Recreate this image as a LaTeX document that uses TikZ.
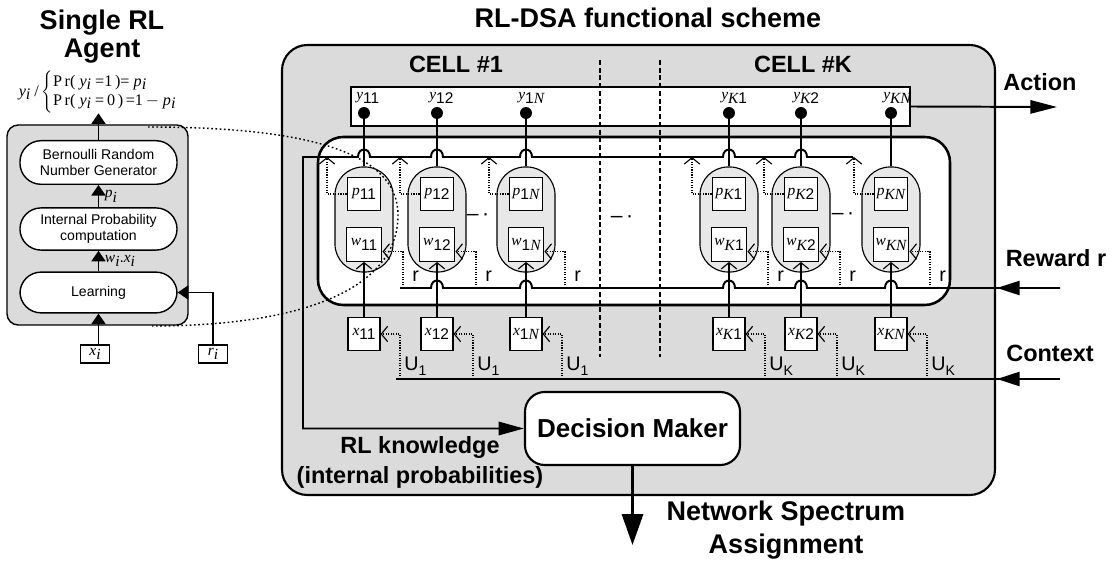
\documentclass[tikz,border=0pt]{standalone}
\usepackage{fontspec}
\setmainfont{Liberation Sans}
\newfontfamily\varfont{Liberation Serif}
\usetikzlibrary{arrows.meta,positioning}
\newcommand{\ix}[1]{{\varfont\itshape #1}}
\newcommand{\sub}[1]{\raisebox{-0.3em}{#1}}

\begin{document}
\begin{tikzpicture}[x=0.025cm, y=-0.025cm,
  thinline/.style={line width=0.8pt},
  heavy/.style={line width=1.4pt},
  fat/.style={-{Triangle[length=7.5pt,width=10pt]}, line width=1.2pt},
  chev/.style={-{Straight Barb[length=4.5pt,width=11pt]}},
  feed/.style={densely dotted, thinline, chev},
  title/.style={font=\fontsize{19.2}{20}\selectfont\bfseries, align=center},
  iolab/.style={font=\fontsize{16.7}{21.3}\selectfont\bfseries, align=center},
  pill/.style={draw, fill=white, line width=1pt, rounded corners=15pt, minimum width=111.7pt,
    minimum height=31pt, inner sep=1pt, align=center, font=\fontsize{10}{11.5}\selectfont},
  agent/.style={draw, thinline, fill=black!9, rounded corners=20pt, minimum width=41.3pt, minimum height=74.7pt},
  var/.style={draw, fill=white, thinline, minimum width=24pt, minimum height=24pt, inner sep=0pt,
    font=\fontsize{11}{11}\selectfont},
  ydot/.style={circle, fill, inner sep=0pt, minimum size=8.5pt},
  tag/.style={font=\fontsize{14}{14}\selectfont, inner sep=0pt, anchor=west}]
  \useasboundingbox (0,0) rectangle (1120,569);

  % frames
  \draw[line width=1.5pt, fill=black!14, rounded corners=18pt] (282,45) rectangle (995,495);
  \draw[line width=1.8pt, fill=white, rounded corners=18pt] (318,137) rectangle (950,305);
  \node[draw, line width=1pt, fill=white, minimum width=397.6pt, minimum height=27.7pt] (act) at (630.5,106.5) {};

  % titles
  \node[title] at (102,37) {Single RL\\Agent};
  \node[title] at (648,18) {RL-DSA functional scheme};
  \node[iolab] (cell1) at (456,64) {CELL \#1};
  \node[iolab] (cellK) at (803,64) {CELL \#K};

  % cell separators
  \foreach \x in {600,660}
    \draw[line width=1.5pt, dash pattern=on 3.5pt off 2pt] (\x,60) -- (\x,357);

  % single RL agent
  \draw[line width=1pt, fill=black!14, rounded corners=8pt] (7,125) rectangle (188,325);
  \node[pill] (bern) at (98.5,162.5) {Bernoulli Random\\Number Generator};
  \node[pill, minimum height=30pt] (iprob) at (98.5,229) {Internal Probability\\computation};
  \node[pill, minimum height=29pt] (learn) at (98.5,292.5) {Learning};
  \node[font=\fontsize{11.5}{13.5}\selectfont\varfont, inner sep=0pt] (ydist) at (98,92)
    {\ix{y}\raisebox{-0.2em}{\ix{i}}\ /\,$\left\{\vcenter{\hbox{\begin{tabular}{@{}l@{}}P\,r(\ \ix{y}\raisebox{-0.2em}{\ix{i}}\ =1\,)=\ \ix{p}\raisebox{-0.2em}{\ix{i}}\\P\,r(\ \ix{y}\raisebox{-0.2em}{\ix{i}}\ =\,0\,)\,=1\,$-$\ \ix{p}\raisebox{-0.2em}{\ix{i}}\end{tabular}}}\right.$};
  \node[draw, thinline, minimum width=20.6pt, minimum height=12.8pt, inner sep=0pt,
    font=\fontsize{11}{11}\selectfont] (xi) at (95,354) {\ix{x}\sub{\ix{i}}};
  \node[draw, thinline, minimum width=20.6pt, minimum height=12.8pt, inner sep=0pt,
    font=\fontsize{11}{11}\selectfont] (ri) at (213,354) {\ix{r}\sub{\ix{i}}};
  \draw[fat] (bern.north) -- (bern.north |- ydist.south);
  \draw[fat] (iprob.north) -- node[right=4pt, inner sep=0pt, font=\fontsize{11}{11}\selectfont] {\ix{p}\sub{\ix{i}}} (bern.south);
  \draw[fat] (learn.north) -- node[right=4pt, inner sep=0pt, font=\fontsize{11}{11}\selectfont]
    {\ix{w}\sub{\ix{i}}.\ix{x}\sub{\ix{i}}} (iprob.south);
  \draw[fat] (learn.south |- xi.north) -- (learn.south);
  \draw[fat] (ri.north) |- (learn.east);

  % decision maker
  \node[draw, line width=1.5pt, fill=white, rounded corners=14pt, minimum width=152.9pt, minimum height=51.9pt,
    font=\fontsize{18.5}{20}\selectfont\bfseries] (dm) at (632.5,428.5) {Decision Maker};

  % agents of the cells
  \foreach \c/\n/\s/\u in {364/11/11/1, 437/12/12/1, 526/1N/1\ix{N}/1,
      729/K1/\ix{K}1/K, 801/K2/\ix{K}2/K, 891/KN/\ix{KN}/K} {
    \node[agent] (a\n) at (\c,219.5) {};
    \node[var] (p\n) at (\c,194) {\ix{p}\sub{\s}};
    \node[var, minimum width=25.5pt] (w\n) at (\c,244.5) {\ix{w}\sub{\s}};
    \node[var, minimum width=22.8pt] (x\n) at (\c,334) {\ix{x}\sub{\s}};
    \node[ydot] (y\n) at (\c,113) {};
    \node[anchor=west, inner sep=0pt, font=\fontsize{11}{11}\selectfont] at (\c-8,98) {\ix{y}\sub{\s}};
    \draw[thinline] (y\n) -- (a\n.north);
    \draw[thinline, chev] (x\n.north) -- (w\n.south);
    \draw[feed] (p\n.west) -| (\c-37,157);
    \draw[feed] (\c+39,288) |- ([yshift=-5pt]w\n.east);
    \node[tag] at (\c+48,276) {r};
    \draw[feed] (\c+36,379) |- (x\n.east);
    \node[tag] at (\c+40,366) {U\raisebox{-0.25em}{\fontsize{10}{10}\selectfont \u}};
  }
  \foreach \g/\x/\y in {1/478/217, 2/622/219, 3/843/216}
    \node[font=\fontsize{15}{15}\selectfont] (gap\g) at (\x,\y) {–\,·};

  % RL knowledge bus
  \coordinate (rlend) at (853,157);
  \draw[heavy, -{Triangle[length=18pt,width=9.5pt]}] (rlend)
    \foreach \h in {801,729,526,437,364} { -- (\h+6,157) .. controls (\h+6,147) and (\h-6,147) .. (\h-6,157) }
    -- (303,157) |- (dm.west);

  % reward bus
  \coordinate (rwin) at (1060,288);
  \coordinate (rwtip) at (997,288);
  \draw[heavy] (rwin)
    \foreach \h in {891,801,729,526,437} { -- (\h+6,288) .. controls (\h+6,278) and (\h-6,278) .. (\h-6,288) }
    -- (400,288);
  \draw[heavy, -{Triangle[length=16pt,width=10pt]}] (rwin) -- (rwtip);

  % context bus
  \coordinate (ctin) at (1060,379);
  \coordinate (cttip) at (997,379);
  \draw[heavy] (ctin) -- (396,379);
  \draw[heavy, -{Triangle[length=16pt,width=10pt]}] (ctin) -- (cttip);

  % action and assignment
  \coordinate (actout) at (1057,107);
  \draw[heavy, -{Triangle[length=19pt,width=9.5pt]}] (act.east) -- (actout);
  \coordinate (nsa) at (632.5,545);
  \draw[line width=2pt, -{Triangle[length=22pt,width=15pt]}] (dm.south) -- (nsa);

  \node[iolab] at (1040,82) {Action};
  \node[iolab] at (1056,258) {Reward r};
  \node[iolab] at (1050,353) {Context};
  \node[iolab] at (420,462) {RL knowledge\\(internal probabilities)};
  \node[title, font=\fontsize{19.2}{23.5}\selectfont\bfseries] at (786,530) {Network Spectrum\\Assignment};

  % zoom of one agent
  \draw[line width=1pt, dash pattern=on 1.2pt off 1.8pt] (148,127) .. controls (300,127) and (398,150) .. (398,215)
    .. controls (398,290) and (300,326) .. (152,326);
\end{tikzpicture}
\end{document}
